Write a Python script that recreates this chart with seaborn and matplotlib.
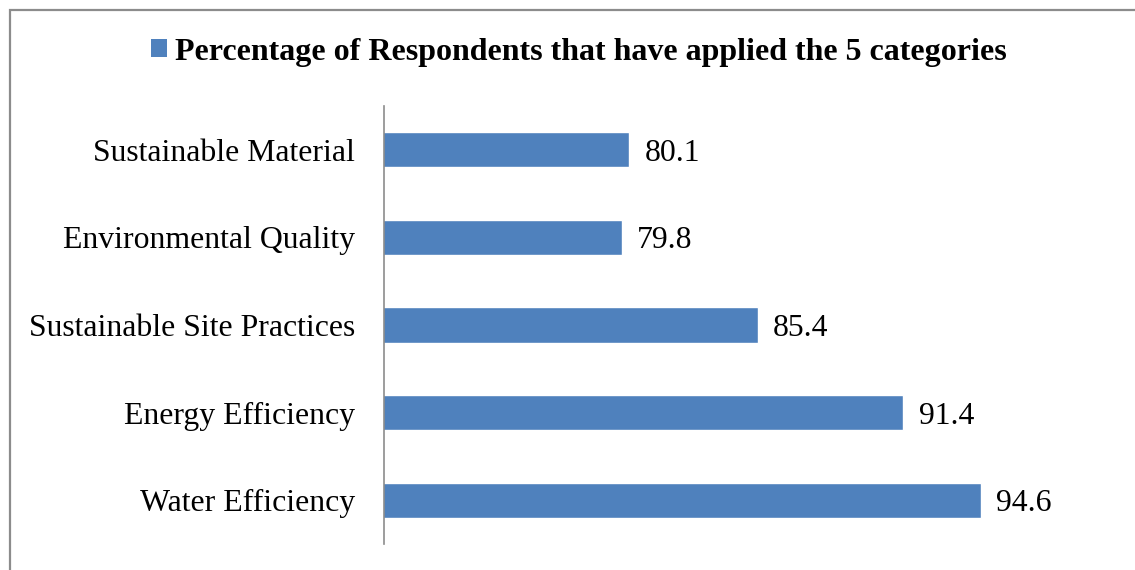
import matplotlib
matplotlib.use("Agg")
import matplotlib.pyplot as plt
from matplotlib.patches import Patch, Rectangle
import seaborn as sns
import pandas as pd

categories = [
    "Sustainable Material",
    "Environmental Quality",
    "Sustainable Site Practices",
    "Energy Efficiency",
    "Water Efficiency",
]
percentages = [80.1, 79.8, 85.4, 91.4, 94.6]
series_name = "Percentage of Respondents that have applied the 5 categories"

bar_color = "#4F81BD"

sns.set_theme(style="white")
plt.rcParams["font.family"] = ["Liberation Serif", "DejaVu Serif"]
plt.rcParams["text.color"] = "black"

df = pd.DataFrame({"category": categories, "value": percentages})

fig = plt.figure(figsize=(11.35, 5.70), dpi=100)
ax = fig.add_axes([384 / 1135, 1 - 544 / 570, (1112 - 384) / 1135, (544 - 106) / 570])

sns.barplot(data=df, x="value", y="category", orient="h", color=bar_color,
            width=0.4, saturation=1, ax=ax)

ax.set_xlim(70, 100)
ax.set_ylim(4.5, -0.5)
ax.set_xlabel("")
ax.set_ylabel("")
ax.set_xticks([])
ax.tick_params(axis="y", length=0, pad=21, labelsize=22.9, labelcolor="black")

for side in ["top", "right", "bottom"]:
    ax.spines[side].set_visible(False)
ax.spines["left"].set_color("#8c8c8c")
ax.spines["left"].set_linewidth(1.2)

for container in ax.containers:
    labels = ax.bar_label(container, fmt="%.1f", padding=11, fontsize=22.9, color="black")
    for lab in labels:
        lab.xyann = (11, -2.5)

# series legend shown as the chart heading
handle = Patch(facecolor=bar_color, edgecolor="none")
fig.legend([handle], [series_name], loc="center", bbox_to_anchor=(0.510, 1 - 52 / 570),
           frameon=False, handlelength=0.5, handleheight=0.5, handletextpad=0.25,
           labelcolor="black", prop={"weight": "bold", "size": 23})

# outer chart frame
fig.add_artist(Rectangle((10 / 1135, -0.05), 1.2, 0.05 + (1 - 9.5 / 570),
                         transform=fig.transFigure, fill=False,
                         edgecolor="#8c8c8c", linewidth=1.6))

fig.savefig("out.png", dpi=100)
